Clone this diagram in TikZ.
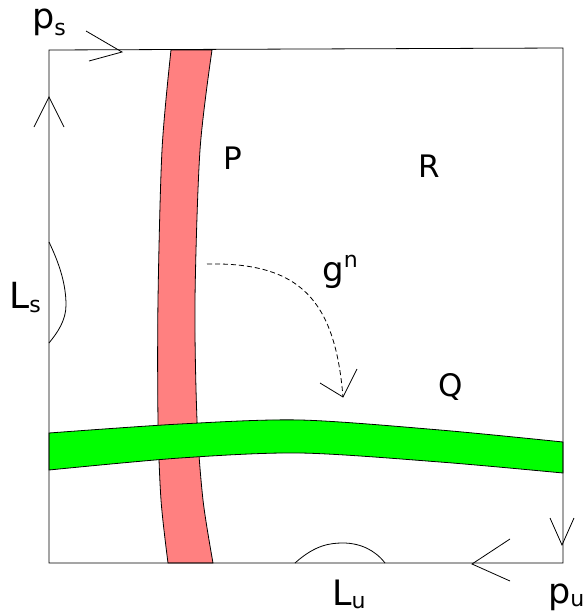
\documentclass[tikz,border=0pt]{standalone}
\usepackage{fontspec}
\setmainfont{DejaVu Sans}
\newcommand{\fsz}[1]{\fontsize{#1}{#1}\selectfont}
\tikzset{
  edge/.style={line width=0.8pt, black},
  lab/.style={inner sep=0pt, anchor=base west},
  redstrip/.style={fill={rgb,255:red,255;green,128;blue,128}, draw=black, line width=0.8pt},
  greenstrip/.style={fill={rgb,255:red,0;green,255;blue,0}, draw=black, line width=0.8pt},
}
\begin{document}
\begin{tikzpicture}[x=1pt,y=-1pt]
\useasboundingbox (0,0) rectangle (584,613);
% red strip
\draw[redstrip] plot[smooth] coordinates {(171,50) (162,150) (158,300) (158,420) (161,500) (168,563)}
  -- plot[smooth] coordinates {(213,563) (203,500) (197,420) (195,300) (200,150) (212,50)} -- cycle;
% green strip
\draw[greenstrip] plot[smooth] coordinates {(49,433) (180,424) (300,420) (440,430) (563,442)}
  -- plot[smooth] coordinates {(563,473) (440,462) (300,453) (180,458) (49,470)} -- cycle;
% boundary square
\coordinate (tl) at (49,50);
\coordinate (tr) at (563,48);
\coordinate (br) at (563,563);
\coordinate (bl) at (49,563);
\draw[edge] (tl) -- (tr) -- (br) -- (bl) -- cycle;
% arrows on the boundary
\draw[edge] (86,31) -- (122,52) -- (89,61);
\draw[edge] (34,127) -- (49,97) -- (64,127);
\draw[edge] (550,518) -- (562,545) -- (574,518);
\draw[edge] (510,539) -- (472,564) -- (510,581);
% bumps
\draw[edge] (49,242) .. controls (60,265) and (66,285) .. (66,305) .. controls (66,320) and (58,332) .. (49,343);
\draw[edge] (295,563) .. controls (315,545) and (330,543) .. (343,543) .. controls (360,543) and (375,550) .. (385,563);
% dashed arrow g^n
\coordinate (gs) at (207,264);
\coordinate (ge) at (343,397);
\draw[edge, dash pattern=on 5pt off 3pt] (gs) .. controls (300,262) and (335,300) .. (ge);
\draw[edge] (320,383) -- (ge) -- (357,369);
% labels
\node[lab] (ps) at (32,28) {\fsz{35}p\raisebox{-7pt}{\fsz{22}s}};
\node[lab] (P) at (223,169) {\fsz{31}P};
\node[lab] (R) at (418,177) {\fsz{31}R};
\node[lab] (Q) at (438,396) {\fsz{31}Q};
\node[lab] (gn) at (322,281) {\fsz{34}g\raisebox{14pt}{\fsz{22}n}};
\node[lab] (Ls) at (9,308) {\fsz{36}L\raisebox{-4pt}{\fsz{22}s}};
\node[lab] (Lu) at (332,605) {\fsz{35}L\raisebox{-3pt}{\fsz{22}u}};
\node[lab] (pu) at (548,603) {\fsz{35}p\raisebox{-3pt}{\fsz{22}u}};
\end{tikzpicture}
\end{document}
